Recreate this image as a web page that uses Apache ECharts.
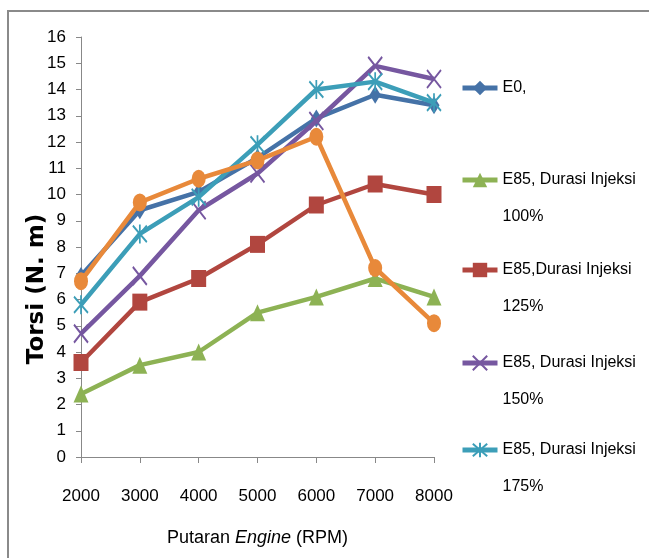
<!DOCTYPE html>
<html>
<head>
<meta charset="utf-8">
<script src="https://cdn.jsdelivr.net/npm/echarts@6/dist/echarts.min.js"></script>
<style>
html,body{margin:0;padding:0;background:#fff;}
#chart{width:649px;height:558px;}
</style>
</head>
<body>
<div id="chart"></div>
<script>
var categories = ['2000','3000','4000','5000','6000','7000','8000'];
var yTicks = [0,1,2,3,4,5,6,7,8,9,10,11,12,13,14,15,16];
var seriesNames = ['E0,', 'E85, Durasi Injeksi 100%', 'E85,Durasi Injeksi 125%', 'E85, Durasi Injeksi 150%', 'E85, Durasi Injeksi 175%', 'E85 (orange)'];
var legendLines = [['E0,'], ['E85, Durasi Injeksi','100%'], ['E85,Durasi Injeksi','125%'], ['E85, Durasi Injeksi','150%'], ['E85, Durasi Injeksi','175%']];
var e0     = [6.9, 9.4, 10.1, 11.4, 12.9, 13.8, 13.4];
var e85_100 = [2.4, 3.5, 4.0, 5.5, 6.1, 6.8, 6.1];
var e85_125 = [3.6, 5.9, 6.8, 8.1, 9.6, 10.4, 10.0];
var e85_150 = [4.7, 6.9, 9.4, 10.8, 12.8, 14.9, 14.4];
var e85_175 = [5.8, 8.5, 9.9, 11.9, 14.0, 14.3, 13.5];
var orangeVals = [6.7, 9.7, 10.6, 11.3, 12.2, 7.2, 5.1];

var FONT = "'Liberation Sans','Arial',sans-serif";
var colors = ['#4572A7', '#8DB254', '#B1463F', '#7657A0', '#3C9EB8', '#E8893A'];
var symbols = [
  {symbol:'diamond', size:[11,18]},
  {symbol:'triangle', size:[15,17]},
  {symbol:'rect', size:[15,17]},
  {symbol:'path://M0,0L10,12M10,0L0,12', size:[14,18]},
  {symbol:'path://M0,0L10,12M10,0L0,12M5,-1L5,13', size:[14,19]},
  {symbol:'path://M0,6a5,6 0 1,0 10,0a5,6 0 1,0 -10,0z', size:[14,18]}
];
var dataSets = [e0, e85_100, e85_125, e85_150, e85_175, orangeVals];

var series = dataSets.map(function(d, i){
  var stroke = (i === 3 || i === 4);
  return {
    name: seriesNames[i],
    type: 'line',
    data: d,
    symbol: symbols[i].symbol,
    symbolSize: symbols[i].size,
    showAllSymbol: true,
    lineStyle: {color: colors[i], width: 4.5},
    itemStyle: stroke ? {color: colors[i], borderColor: colors[i], borderWidth: 2} : {color: colors[i]},
    emphasis: {disabled: true},
    z: 2 + i
  };
});

var legendIconY = [88, 180, 270, 363, 450];
var LH = 37;
var legends = legendLines.map(function(lines, i){
  var two = lines.length > 1;
  var txt = two ? (' \n' + lines[0] + '\n' + lines[1]) : lines[0];
  var boxH = two ? LH * 3 : LH;
  return {
    data: [seriesNames[i]],
    orient: 'vertical',
    left: 460,
    top: legendIconY[i] - boxH / 2,
    padding: 0,
    itemWidth: 35,
    itemHeight: 18,
    itemGap: 0,
    selectedMode: false,
    lineStyle: {width: 5},
    formatter: function(){ return txt; },
    textStyle: {
      fontFamily: FONT, fontSize: 16, color: '#000', lineHeight: LH
    }
  };
});

var chart = echarts.init(document.getElementById('chart'), null, {renderer: 'canvas'});
chart.setOption({
  backgroundColor: '#fff',
  animation: false,
  color: colors,
  grid: {left: 81, right: 215, top: 37, bottom: 101, containLabel: false},
  legend: legends,
  xAxis: {
    type: 'category',
    data: categories,
    boundaryGap: false,
    name: '{n|Putaran }{i|Engine}{n| (RPM)}',
    nameLocation: 'middle',
    nameGap: 72,
    nameTextStyle: {
      rich: {
        n: {fontFamily: FONT, fontSize: 18, color: '#000'},
        i: {fontFamily: FONT, fontSize: 18, color: '#000', fontStyle: 'italic'}
      }
    },
    axisLine: {lineStyle: {color: '#888', width: 1}},
    axisTick: {show: true, interval: 0, alignWithLabel: true, length: 6, lineStyle: {color: '#888'}},
    axisLabel: {interval: 0, fontFamily: FONT, fontSize: 17, color: '#000', margin: 31},
    splitLine: {show: false}
  },
  yAxis: {
    type: 'value',
    min: yTicks[0],
    max: yTicks[yTicks.length - 1],
    interval: 1,
    name: 'Torsi (N. m)',
    nameLocation: 'middle',
    nameRotate: 90,
    nameGap: 32,
    nameMoveOverlap: false,
    nameTextStyle: {
      fontFamily: "'DejaVu Sans', sans-serif", fontWeight: 'bold', fontSize: 23, color: '#000',
      padding: [0, 84, 0, 0]
    },
    axisLine: {show: true, lineStyle: {color: '#888', width: 1}},
    axisTick: {show: true, length: 5, lineStyle: {color: '#888'}},
    axisLabel: {fontFamily: FONT, fontSize: 17, color: '#000', margin: 15},
    splitLine: {show: false}
  },
  graphic: [
    {type: 'line', shape: {x1: 8, y1: 11, x2: 649, y2: 11}, style: {stroke: '#8a8a8a', lineWidth: 2}, silent: true},
    {type: 'line', shape: {x1: 8, y1: 10, x2: 8, y2: 558}, style: {stroke: '#8a8a8a', lineWidth: 2}, silent: true}
  ],
  series: series
});
</script>
</body>
</html>
